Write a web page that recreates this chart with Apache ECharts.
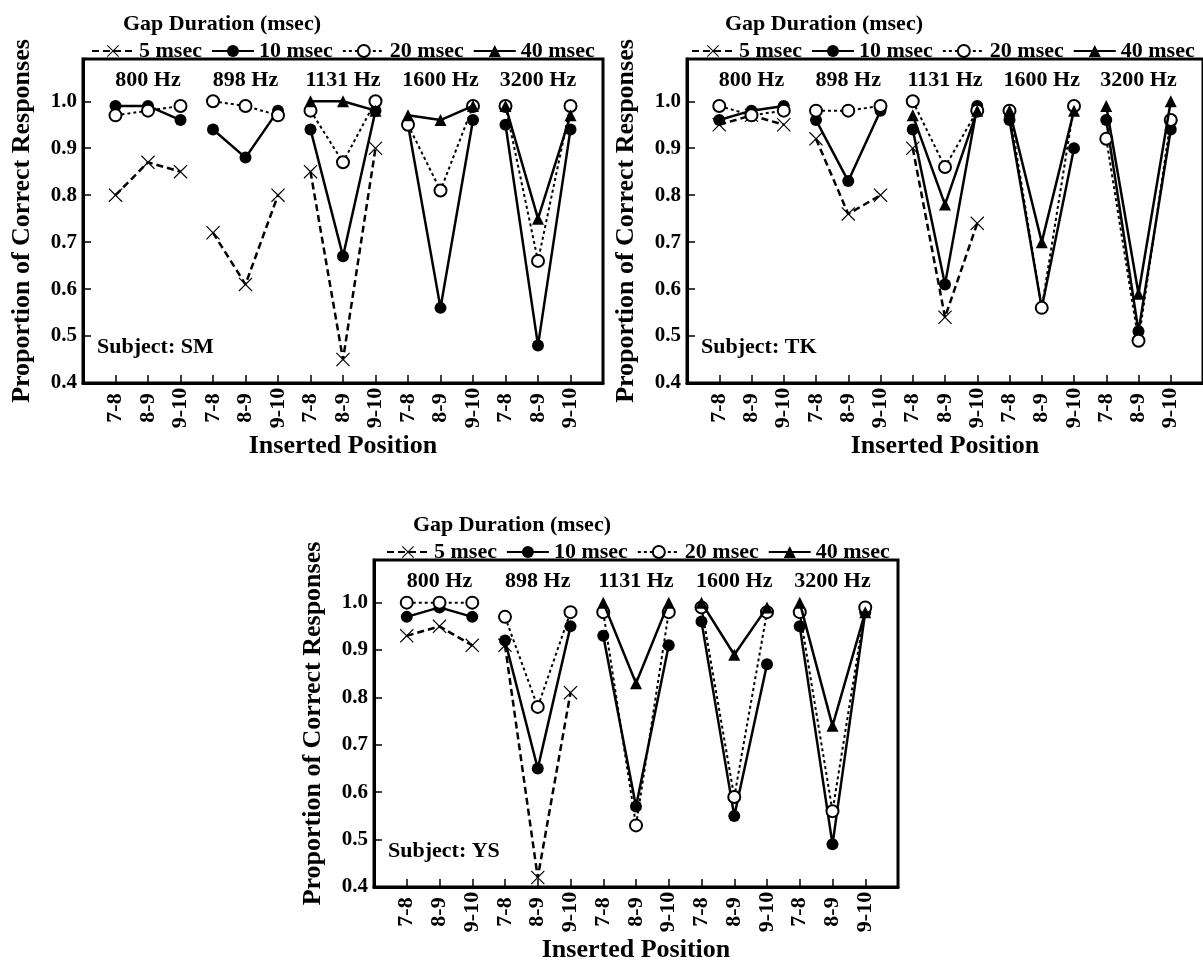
<!DOCTYPE html>
<html>
<head>
<meta charset="utf-8">
<title>Proportion of Correct Responses</title>
<script src="https://cdn.jsdelivr.net/npm/echarts@6/dist/echarts.min.js"></script>
<style>
  html, body { margin: 0; padding: 0; background: #fff; }
  #chart { width: 1203px; height: 965px; }
</style>
</head>
<body>
<div id="chart"></div>
<script>
// x: three inserted positions inside each of five frequencies
const positions = ['7-8', '8-9', '9-10']
const freqs = ['800 Hz', '898 Hz', '1131 Hz', '1600 Hz', '3200 Hz']
const gaps = ['5 msec', '10 msec', '20 msec', '40 msec']
const subjects = ['SM', 'TK', 'YS']

// 15 values per gap: 800 | 898 | 1131 | 1600 | 3200 Hz, null = not tested
const sm5 = [0.80, 0.87, 0.85, 0.72, 0.61, 0.80, 0.85, 0.45, 0.90, null, null, null, null, null, null]
const sm10 = [0.99, 0.99, 0.96, 0.94, 0.88, 0.98, 0.94, 0.67, 0.98, 0.95, 0.56, 0.96, 0.95, 0.48, 0.94]
const sm20 = [0.97, 0.98, 0.99, 1.00, 0.99, 0.97, 0.98, 0.87, 1.00, 0.95, 0.81, 0.99, 0.99, 0.66, 0.99]
const sm40 = [null, null, null, null, null, null, 1.00, 1.00, 0.98, 0.97, 0.96, 0.99, 0.99, 0.75, 0.97]

const tk5 = [0.95, 0.97, 0.95, 0.92, 0.76, 0.80, 0.90, 0.54, 0.74, null, null, null, null, null, null]
const tk10 = [0.96, 0.98, 0.99, 0.96, 0.83, 0.98, 0.94, 0.61, 0.99, 0.96, 0.56, 0.90, 0.96, 0.51, 0.94]
const tk20 = [0.99, 0.97, 0.98, 0.98, 0.98, 0.99, 1.00, 0.86, 0.98, 0.98, 0.56, 0.99, 0.92, 0.49, 0.96]
const tk40 = [null, null, null, null, null, null, 0.97, 0.78, 0.98, 0.98, 0.70, 0.98, 0.99, 0.59, 1.00]

const ys5 = [0.93, 0.95, 0.91, 0.91, 0.42, 0.81, null, null, null, null, null, null, null, null, null]
const ys10 = [0.97, 0.99, 0.97, 0.92, 0.65, 0.95, 0.93, 0.57, 0.91, 0.96, 0.55, 0.87, 0.95, 0.49, 0.98]
const ys20 = [1.00, 1.00, 1.00, 0.97, 0.78, 0.98, 0.98, 0.53, 0.98, 0.99, 0.59, 0.98, 0.98, 0.56, 0.99]
const ys40 = [null, null, null, null, null, null, 1.00, 0.83, 1.00, 1.00, 0.89, 0.99, 1.00, 0.74, 0.98]

const panelData = [
  [sm5, sm10, sm20, sm40],
  [tk5, tk10, tk20, tk40],
  [ys5, ys10, ys20, ys40]
]

const FONT = '"Liberation Serif", "Times New Roman", serif'
// thin X mark
const crossPath = 'path://M0,0.6L0.6,0L5,4.4L9.4,0L10,0.6L5.6,5L10,9.4L9.4,10L5,5.6L0.6,10L0,9.4L4.4,5Z'

// look of each gap duration
const gapStyle = [
  { symbol: crossPath, size: 14, type: [7, 4], width: 2.5, border: 0 },
  { symbol: 'circle', size: 12, type: 'solid', width: 2.5, border: 0 },
  { symbol: 'emptyCircle', size: 12, type: [3, 3], width: 2, border: 1.3 },
  { symbol: 'triangle', size: 12, type: 'solid', width: 2.5, border: 0 }
]

// panel boxes
const boxes = [
  { left: 83, top: 59, width: 520, height: 324, legendLeft: 86, titleLeft: 118 },
  { left: 687, top: 59, width: 522, height: 324, legendLeft: 686, titleLeft: 720 },
  { left: 374, top: 560, width: 524, height: 327, legendLeft: 381, titleLeft: 408 }
]

const chart = echarts.init(document.getElementById('chart'))

const grid = [], xAxis = [], yAxis = [], legend = [], title = [], graphic = [], series = []

boxes.forEach((b, p) => {
  grid.push({
    left: b.left, top: b.top, width: b.width, height: b.height,
    show: true, borderColor: '#000', borderWidth: 3
  })
  xAxis.push({
    type: 'value', gridIndex: p, min: 0, max: 16, interval: 1,
    name: 'Inserted Position', nameLocation: 'middle', nameGap: 50,
    nameTextStyle: { fontFamily: FONT, fontWeight: 'bold', fontSize: 26, color: '#000' },
    axisLine: { lineStyle: { color: '#000', width: 3 } },
    axisTick: { inside: true, length: 8, lineStyle: { color: '#000', width: 1.5 } },
    axisLabel: {
      rotate: 90, align: 'center', verticalAlign: 'middle', margin: 25,
      fontFamily: FONT, fontWeight: 'bold', fontSize: 22, color: '#000',
      formatter: v => (v >= 1 && v <= 15) ? positions[(v - 1) % 3] : ''
    },
    splitLine: { show: false }
  })
  yAxis.push({
    type: 'value', gridIndex: p, min: 0.4, max: 1.09, interval: 0.1,
    name: 'Proportion of Correct Responses', nameLocation: 'middle', nameGap: 48,
    nameTextStyle: { fontFamily: FONT, fontWeight: 'bold', fontSize: 26, color: '#000' },
    axisLine: { show: true, lineStyle: { color: '#000', width: 3 } },
    axisTick: { show: true, inside: true, length: 8, lineStyle: { color: '#000', width: 1.5 } },
    axisLabel: {
      margin: 6, fontFamily: FONT, fontWeight: 'bold', fontSize: 21, color: '#000',
      formatter: v => v > 1.001 ? '' : v.toFixed(1)
    },
    splitLine: { show: false }
  })
  legend.push({
    data: gaps, left: b.legendLeft, top: b.top - 24, width: 620,
    itemWidth: 42, itemHeight: 15, itemGap: 9,
    textStyle: { fontFamily: FONT, fontWeight: 'bold', fontSize: 22, color: '#000' }
  })
  title.push({
    text: 'Gap Duration (msec)', left: b.titleLeft, top: b.top - 51,
    textStyle: { fontFamily: FONT, fontWeight: 'bold', fontSize: 22, color: '#000' }
  })
  graphic.push({
    type: 'text', left: b.left + 14, top: b.top + b.height - 47,
    style: { text: 'Subject: ' + subjects[p], font: 'bold 22px ' + FONT, fill: '#000' }
  })

  // one line per gap per frequency so groups stay unconnected
  panelData[p].forEach((vals, g) => {
    const st = gapStyle[g]
    freqs.forEach((f, fi) => {
      const pts = []
      positions.forEach((pos, k) => {
        const v = vals[fi * 3 + k]
        if (v != null) pts.push([fi * 3 + k + 1, v])
      })
      if (!pts.length) return
      series.push({
        name: gaps[g], type: 'line', xAxisIndex: p, yAxisIndex: p,
        data: pts, symbol: st.symbol, symbolSize: st.size, showAllSymbol: true,
        itemStyle: { color: '#000', borderColor: '#000', borderWidth: st.border },
        lineStyle: { color: '#000', width: st.width, type: st.type },
        z: 2 + g
      })
    })
  })

  // frequency captions above each group
  series.push({
    name: 'freq', type: 'scatter', xAxisIndex: p, yAxisIndex: p, silent: true,
    symbolSize: 1, itemStyle: { color: 'transparent', opacity: 1 },
    data: freqs.map((f, fi) => [fi * 3 + 2, 1.045]),
    label: {
      show: true, position: 'inside', color: '#000', opacity: 1, textBorderWidth: 0,
      fontFamily: FONT, fontWeight: 'bold', fontSize: 22,
      formatter: prm => freqs[prm.dataIndex]
    }
  })
})

chart.setOption({
  animation: false,
  backgroundColor: '#fff',
  title, legend, grid, xAxis, yAxis, graphic, series
})
</script>
</body>
</html>
